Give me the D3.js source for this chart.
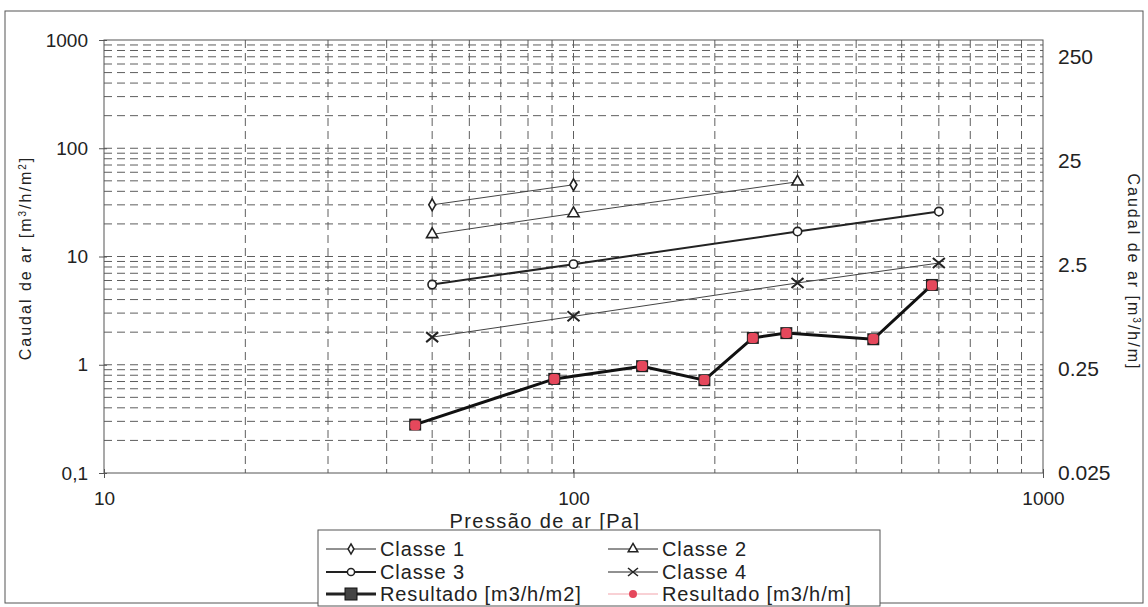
<!DOCTYPE html>
<html>
<head>
<meta charset="utf-8">
<script src="https://cdn.jsdelivr.net/npm/d3@7"></script>
<style>
    body { margin: 0; background: #fff; }
    svg { display: block; font-family: "Liberation Sans", Arial, sans-serif; }
    .grid line { stroke: #5e5e5e; stroke-width: 1; stroke-dasharray: 8,5; }
    .tick-label { fill: #222; font-size: 19px; }
    .axis-title { fill: #222; font-size: 16px; letter-spacing: 2px; }
    .legend-text { fill: #222; font-size: 20px; letter-spacing: 0.9px; }
</style>
</head>
<body>
<div id="chart"></div>
<script>
// axis ticks
var xTicks = [10, 100, 1000];
var xTickLabels = ['10', '100', '1000'];
var leftTicks = [1000, 100, 10, 1, 0.1];
var leftTickLabels = ['1000', '100', '10', '1', '0,1'];
var rightTicks = [250, 25, 2.5, 0.25, 0.025];
var rightTickLabels = ['250', '25', '2.5', '0.25', '0.025'];

// series (pressure in Pa, flow in m3/h/m2 or m3/h/m)
var classe1P = [50, 100];
var classe1Q = [30, 46];
var classe2P = [50, 100, 300];
var classe2Q = [16, 25, 49];
var classe3P = [50, 100, 300, 600];
var classe3Q = [5.5, 8.5, 17, 26];
var classe4P = [50, 100, 300, 600];
var classe4Q = [1.8, 2.8, 5.7, 8.7];
var resultP = [46, 91, 140, 190, 241, 284, 435, 580];
var resultM2 = [0.28, 0.74, 0.97, 0.72, 1.77, 1.96, 1.72, 5.46];
var resultM = [0.072, 0.2, 0.267, 0.196, 0.497, 0.555, 0.486, 1.6];

var W = 1148, H = 607;
var plot = { left: 104, right: 1043, top: 40, bottom: 473 };
var red = '#e5485c';

var svg = d3.select('#chart').append('svg')
    .attr('width', W)
    .attr('height', H);

var x = d3.scaleLog().domain([10, 1000]).range([plot.left, plot.right]);
var yL = d3.scaleLog().domain([0.1, 1000]).range([plot.bottom, plot.top]);
var yR = d3.scaleLog().domain([0.025, 250]).range([plot.bottom, 57]);

// outer frame
svg.append('rect')
    .attr('x', 5).attr('y', 11)
    .attr('width', 1138).attr('height', 592)
    .attr('fill', 'none')
    .attr('stroke', '#555');

// minor values for gridlines
function minors(lo, hi) {
    var out = [];
    for (var d = lo; d < hi; d *= 10) {
        for (var k = 1; k < 10; k++) {
            var v = d * k;
            if (v > lo && v < hi) out.push(v);
        }
    }
    return out;
}

var grid = svg.append('g').attr('class', 'grid');

grid.selectAll('.h')
    .data(minors(0.1, 1000))
    .enter().append('line')
    .attr('x1', plot.left).attr('x2', plot.right)
    .attr('y1', function(d) { return yL(d); })
    .attr('y2', function(d) { return yL(d); });

grid.selectAll('.v')
    .data(minors(10, 1000))
    .enter().append('line')
    .attr('y1', plot.top).attr('y2', plot.bottom)
    .attr('x1', function(d) { return x(d); })
    .attr('x2', function(d) { return x(d); });

// plot border
svg.append('rect')
    .attr('x', plot.left).attr('y', plot.top)
    .attr('width', plot.right - plot.left)
    .attr('height', plot.bottom - plot.top)
    .attr('fill', 'none')
    .attr('stroke', '#555');

// left axis
var leftAxis = svg.append('g')
    .attr('transform', 'translate(' + plot.left + ',0)')
    .call(d3.axisLeft(yL)
        .tickValues(leftTicks)
        .tickSize(5)
        .tickPadding(11)
        .tickFormat(function(d, i) { return leftTickLabels[i]; }));
leftAxis.select('.domain').remove();
leftAxis.selectAll('.tick line').attr('stroke', '#555').attr('x2', -5).attr('x1', 3);
leftAxis.selectAll('.tick text').attr('class', 'tick-label').attr('fill', null).attr('font-size', null).attr('font-family', null);

// right axis
var rightAxis = svg.append('g')
    .attr('transform', 'translate(' + plot.right + ',0)')
    .call(d3.axisRight(yR)
        .tickValues(rightTicks)
        .tickSize(0)
        .tickPadding(15)
        .tickFormat(function(d, i) { return rightTickLabels[i]; }));
rightAxis.select('.domain').remove();
rightAxis.selectAll('.tick text').attr('class', 'tick-label').attr('fill', null).attr('font-family', null).attr('font-size', null)
    .style('font-size', '21px');

// bottom axis
var bottomAxis = svg.append('g')
    .attr('transform', 'translate(0,' + plot.bottom + ')')
    .call(d3.axisBottom(x)
        .tickValues(xTicks)
        .tickSize(5)
        .tickPadding(14)
        .tickFormat(function(d, i) { return xTickLabels[i]; }));
bottomAxis.select('.domain').remove();
bottomAxis.selectAll('.tick line').attr('stroke', '#555').attr('y1', -4);
bottomAxis.selectAll('.tick text').attr('class', 'tick-label').attr('fill', null).attr('font-family', null).attr('font-size', null);

// axis titles
svg.append('text')
    .attr('class', 'tick-label')
    .attr('x', 545)
    .attr('y', 528)
    .attr('text-anchor', 'middle')
    .style('font-size', '20px')
    .style('letter-spacing', '1.4px')
    .text('Pressão de ar [Pa]');

var tl = svg.append('text')
    .attr('class', 'axis-title')
    .attr('text-anchor', 'middle')
    .attr('transform', 'translate(31,258) rotate(-90)');
tl.append('tspan').text('Caudal de ar [m');
tl.append('tspan').attr('baseline-shift', 'super').attr('font-size', '10px').text('3');
tl.append('tspan').text('/h/m');
tl.append('tspan').attr('baseline-shift', 'super').attr('font-size', '10px').text('2');
tl.append('tspan').text(']');

var tr = svg.append('text')
    .attr('class', 'axis-title')
    .attr('text-anchor', 'middle')
    .attr('transform', 'translate(1128,272) rotate(90)');
tr.append('tspan').text('Caudal de ar [m');
tr.append('tspan').attr('baseline-shift', 'super').attr('font-size', '10px').text('3');
tr.append('tspan').text('/h/m]');

// series
var series = [
    { p: classe1P, q: classe1Q, y: yL, width: 1, color: '#444', symbol: d3.symbolDiamond, size: 40, fill: '#fff' },
    { p: classe2P, q: classe2Q, y: yL, width: 1, color: '#444', symbol: d3.symbolTriangle, size: 55, fill: '#fff' },
    { p: classe3P, q: classe3Q, y: yL, width: 2, color: '#222', symbol: d3.symbolCircle, size: 55, fill: '#fff' },
    { p: classe4P, q: classe4Q, y: yL, width: 1, color: '#444', symbol: d3.symbolCross, size: 0, fill: 'none', cross: true }
];

series.forEach(function(s) {
    var pts = s.p.map(function(p, i) { return [x(p), s.y(s.q[i])]; });
    svg.append('path')
        .attr('d', d3.line()(pts))
        .attr('fill', 'none')
        .attr('stroke', s.color)
        .attr('stroke-width', s.width);
    pts.forEach(function(pt) {
        if (s.cross) {
            svg.append('path')
                .attr('d', 'M-6,-5L6,5M-6,5L6,-5')
                .attr('transform', 'translate(' + pt[0] + ',' + pt[1] + ')')
                .attr('stroke', '#222')
                .attr('stroke-width', 2);
        } else {
            svg.append('path')
                .attr('d', d3.symbol().type(s.symbol).size(s.size)())
                .attr('transform', 'translate(' + pt[0] + ',' + pt[1] + ')')
                .attr('fill', s.fill)
                .attr('stroke', '#222')
                .attr('stroke-width', 1.6);
        }
    });
});

// resultado m3/h/m2 (black squares)
var resPts = resultP.map(function(p, i) { return [x(p), yL(resultM2[i])]; });
svg.append('path')
    .attr('d', d3.line()(resPts))
    .attr('fill', 'none')
    .attr('stroke', '#111')
    .attr('stroke-width', 3);
svg.selectAll('.res-sq')
    .data(resPts)
    .enter().append('rect')
    .attr('x', function(d) { return d[0] - 6; })
    .attr('y', function(d) { return d[1] - 6; })
    .attr('width', 12).attr('height', 12)
    .attr('fill', '#222');

// resultado m3/h/m (red dots on right axis)
var resMPts = resultP.map(function(p, i) { return [x(p), yR(resultM[i])]; });
svg.selectAll('.res-dot')
    .data(resMPts)
    .enter().append('rect')
    .attr('x', function(d) { return d[0] - 5; })
    .attr('y', function(d) { return d[1] - 5; })
    .attr('width', 10).attr('height', 10)
    .attr('rx', 3)
    .attr('fill', red);

// legend
var legend = svg.append('g');
legend.append('rect')
    .attr('x', 318).attr('y', 530)
    .attr('width', 562).attr('height', 76)
    .attr('fill', '#fff')
    .attr('stroke', '#555');

var legendItems = [
    { label: 'Classe 1', col: 0, row: 0, kind: 'diamond' },
    { label: 'Classe 2', col: 1, row: 0, kind: 'triangle' },
    { label: 'Classe 3', col: 0, row: 1, kind: 'circle' },
    { label: 'Classe 4', col: 1, row: 1, kind: 'cross' },
    { label: 'Resultado [m3/h/m2]', col: 0, row: 2, kind: 'square' },
    { label: 'Resultado [m3/h/m]', col: 1, row: 2, kind: 'dot' }
];
var colX = [326, 608];
var rowY = [549, 572, 594];

legendItems.forEach(function(it) {
    var x0 = colX[it.col], yy = rowY[it.row], cx = x0 + 25;
    var thick = it.kind === 'square' ? 3 : (it.kind === 'circle' ? 2 : 1);
    legend.append('line')
        .attr('x1', x0).attr('x2', x0 + 50)
        .attr('y1', yy).attr('y2', yy)
        .attr('stroke', it.kind === 'dot' ? '#f2a3ab' : '#222')
        .attr('stroke-width', thick);
    var g = legend.append('g').attr('transform', 'translate(' + cx + ',' + yy + ')');
    if (it.kind === 'cross') {
        g.append('path').attr('d', 'M-5,-4L5,4M-5,4L5,-4').attr('stroke', '#222').attr('stroke-width', 1.6);
    } else if (it.kind === 'square') {
        g.append('rect').attr('x', -6).attr('y', -6).attr('width', 12).attr('height', 12).attr('fill', '#444').attr('stroke', '#111');
    } else if (it.kind === 'dot') {
        g.append('circle').attr('r', 4).attr('fill', red);
    } else {
        var type = it.kind === 'diamond' ? d3.symbolDiamond : (it.kind === 'triangle' ? d3.symbolTriangle : d3.symbolCircle);
        g.append('path')
            .attr('d', d3.symbol().type(type).size(it.kind === 'diamond' ? 30 : 40)())
            .attr('fill', '#fff').attr('stroke', '#222').attr('stroke-width', 1.5);
    }
    legend.append('text')
        .attr('class', 'legend-text')
        .attr('x', x0 + 54)
        .attr('y', yy + 7)
        .text(it.label);
});
</script>
</body>
</html>
